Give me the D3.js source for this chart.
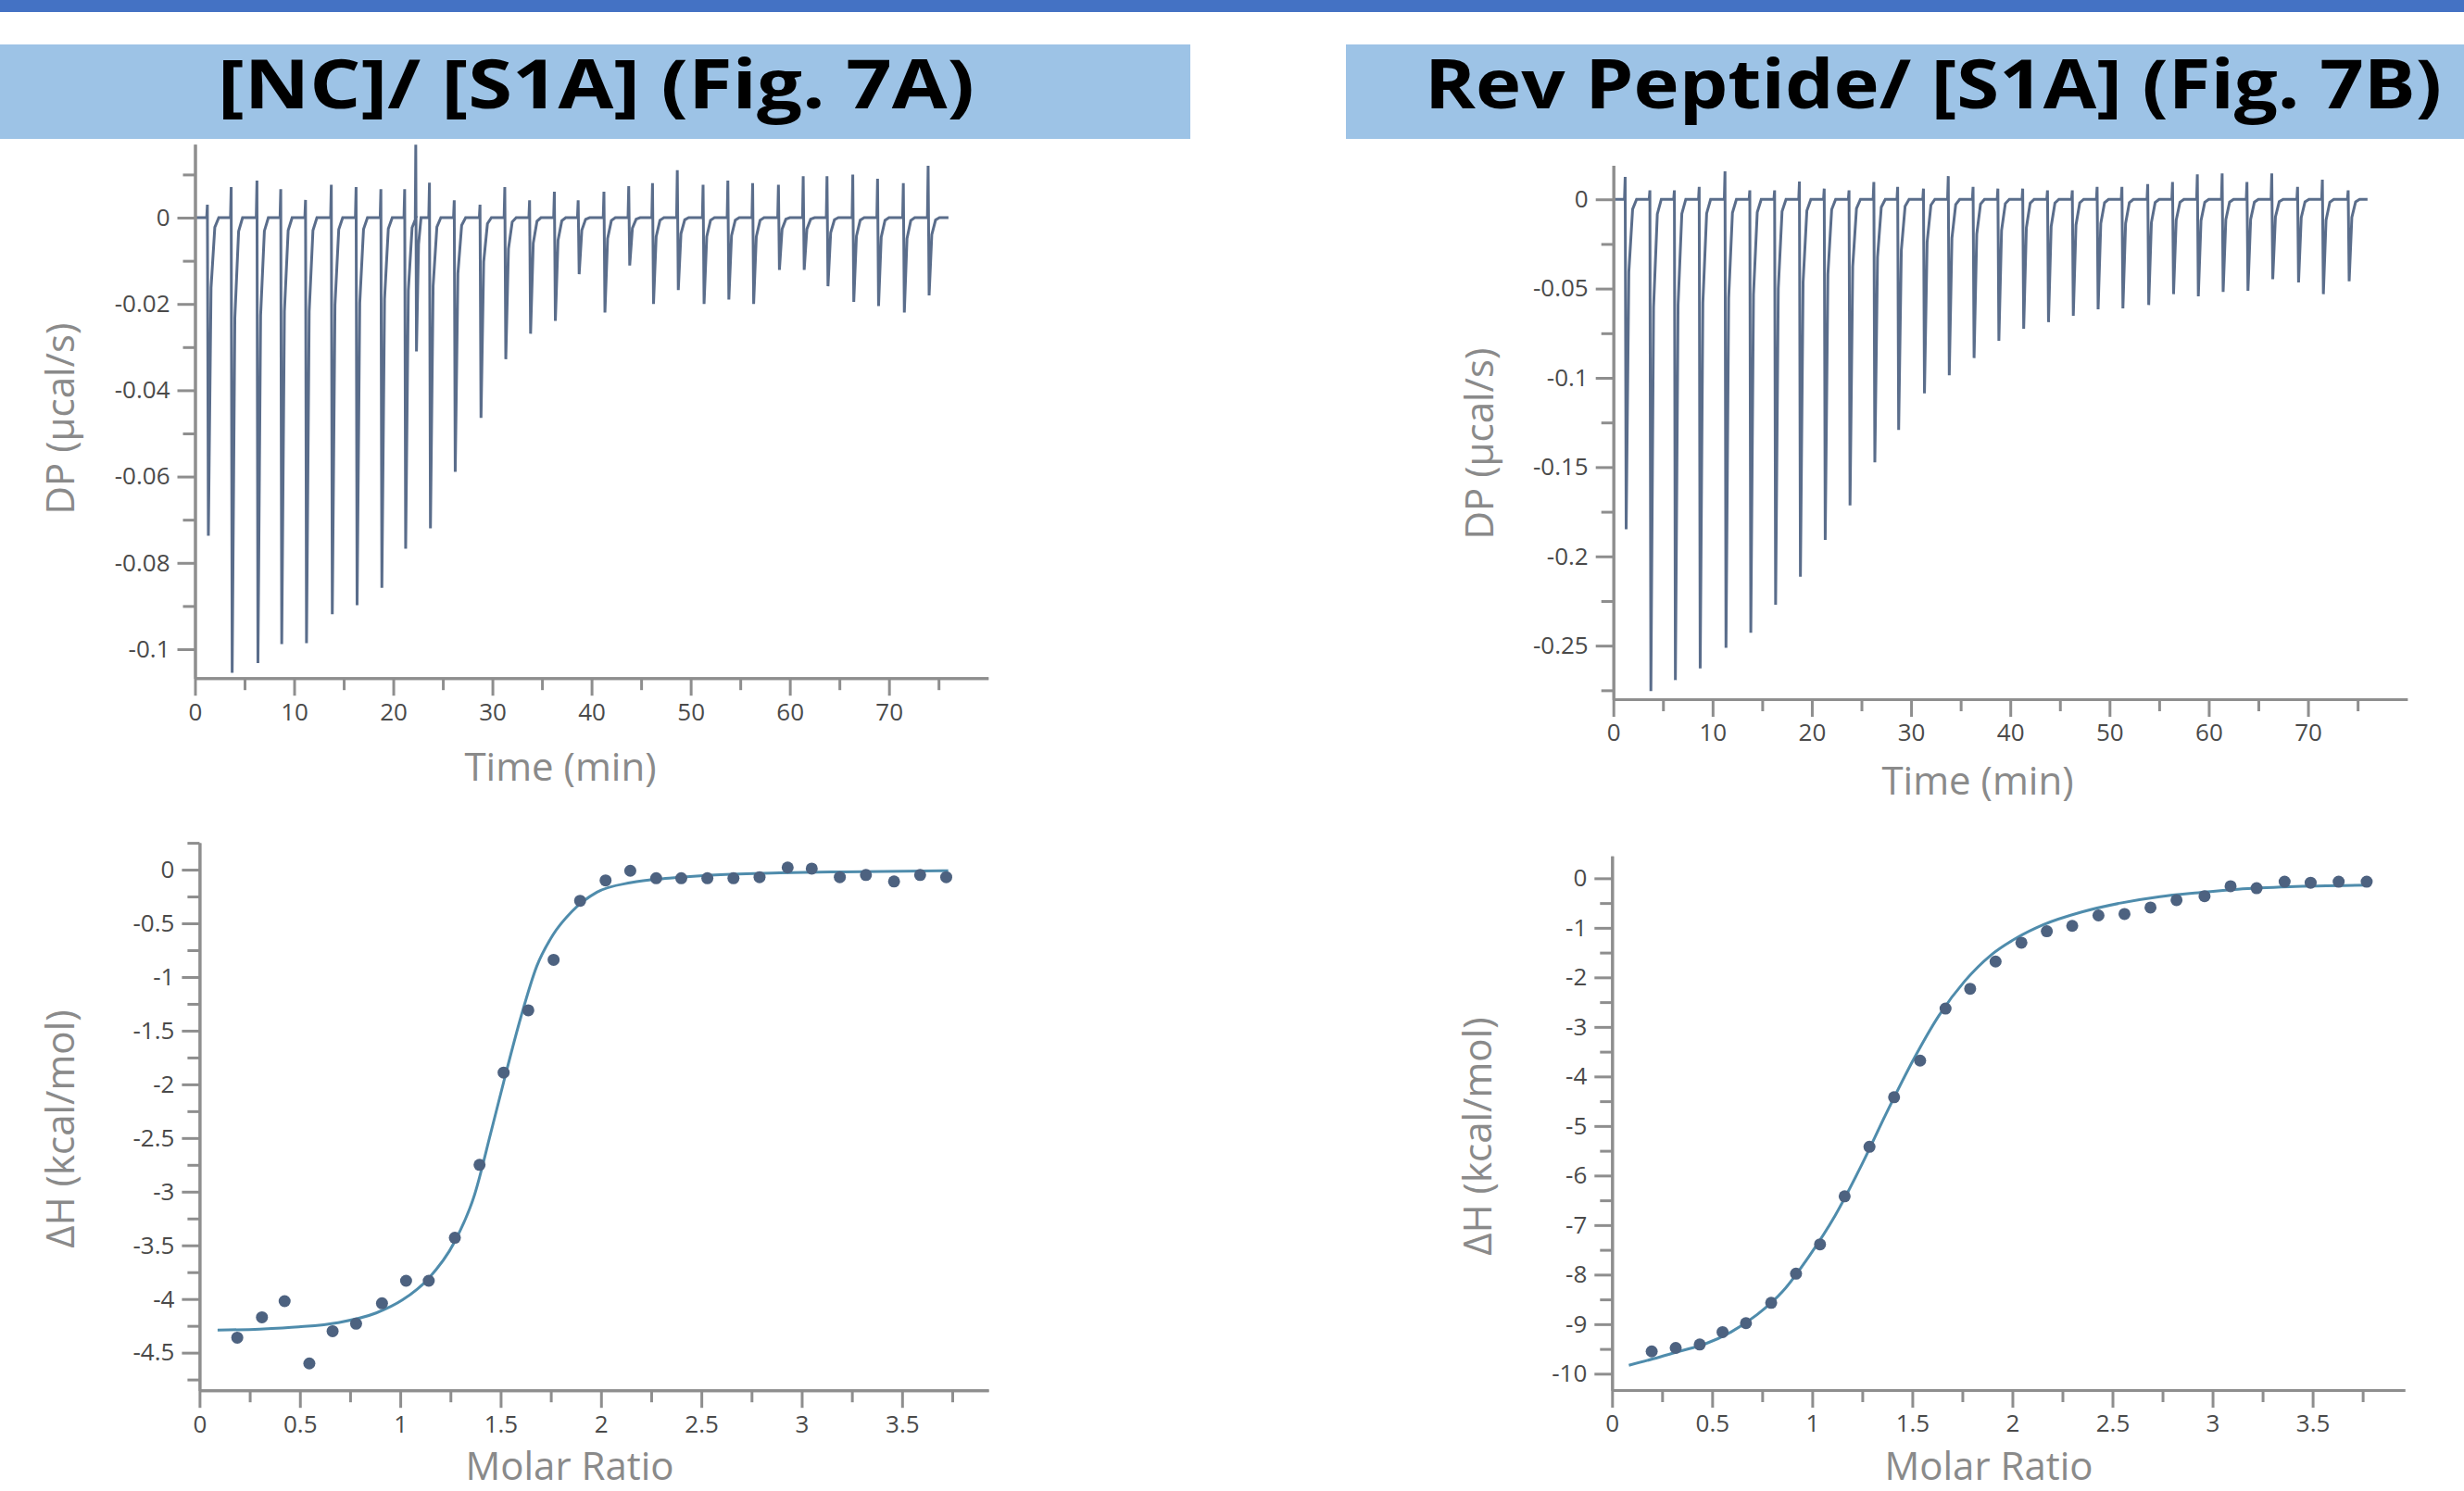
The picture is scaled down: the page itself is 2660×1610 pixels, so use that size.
<!DOCTYPE html>
<html>
<head>
<meta charset="utf-8">
<script src="https://cdn.jsdelivr.net/npm/d3@7"></script>
<style>
  body { margin: 0; background: #fff; overflow: hidden; }
  svg { display: block; }
</style>
</head>
<body>
<div id="viz"></div>
<script>
const W = 2660, H = 1610;

const panelTitles = ["[NC]/ [S1A] (Fig. 7A)", "Rev Peptide/ [S1A] (Fig. 7B)"];

// raw thermogram [NC]/[S1A] : injection time (min), peak (µcal/s), small overshoot
const ncTime = [1.3, 3.7, 6.3, 8.7, 11.2, 13.8, 16.3, 18.8, 21.2, 23.7, 26.2, 28.8, 31.3, 33.8, 36.3,
  38.7, 41.3, 43.8, 46.2, 48.7, 51.3, 53.8, 56.3, 58.9, 61.4, 63.8, 66.4, 68.9, 71.5, 74.0];
const ncPeak = [-0.0737, -0.1055, -0.1032, -0.0988, -0.0986, -0.0919, -0.0898, -0.0858, -0.0767, -0.072,
  -0.0589, -0.0464, -0.0328, -0.0269, -0.0239, -0.0131, -0.022, -0.0111, -0.02, -0.0168,
  -0.02, -0.019, -0.02, -0.0121, -0.0121, -0.0159, -0.0195, -0.0205, -0.022, -0.018];
const ncUp = [0.003, 0.0071, 0.0086, 0.0066, 0.0041, 0.0076, 0.0071, 0.0066, 0.0066, 0.0081,
  0.004, 0.003, 0.0071, 0.004, 0.006, 0.004, 0.006, 0.0073, 0.008, 0.011,
  0.0076, 0.0086, 0.008, 0.0076, 0.0096, 0.0096, 0.01, 0.009, 0.008, 0.012];
// the glitch near 22 min
const ncGlitch = {time: 22.3, up: 0.0169, down: -0.031};

// raw thermogram Rev peptide/[S1A]
const revTime = [1.24, 3.73, 6.2, 8.7, 11.3, 13.8, 16.3, 18.8, 21.3, 23.8, 26.3, 28.7, 31.3, 33.8, 36.3,
  38.8, 41.3, 43.8, 46.3, 48.8, 51.3, 53.9, 56.4, 58.9, 61.4, 63.9, 66.4, 69.0, 71.5, 74.1];
const revPeak = [-0.1848, -0.2754, -0.2693, -0.2628, -0.2512, -0.2428, -0.2271, -0.2114, -0.1908, -0.1715,
  -0.1473, -0.1292, -0.1087, -0.0986, -0.0889, -0.0792, -0.0725, -0.0688, -0.0652, -0.0616,
  -0.0611, -0.0592, -0.0531, -0.0543, -0.0519, -0.0512, -0.0447, -0.0466, -0.0531, -0.0459];
const revUp = [0.0126, 0.005, 0.005, 0.007, 0.0157, 0.005, 0.005, 0.01, 0.006, 0.005,
  0.0097, 0.007, 0.006, 0.013, 0.007, 0.006, 0.006, 0.005, 0.005, 0.007,
  0.007, 0.0085, 0.0097, 0.014, 0.0145, 0.0097, 0.0145, 0.007, 0.011, 0.005];

// integrated heats
const ncRatio = [0.188, 0.311, 0.424, 0.547, 0.663, 0.780, 0.909, 1.029, 1.142, 1.272, 1.395, 1.515, 1.638, 1.764,
  1.896, 2.023, 2.146, 2.275, 2.40, 2.53, 2.66, 2.79, 2.93, 3.05, 3.19, 3.32, 3.46, 3.59, 3.72];
const ncDH = [-4.36, -4.17, -4.02, -4.60, -4.30, -4.23, -4.04, -3.83, -3.83, -3.43, -2.75, -1.89, -1.31, -0.84,
  -0.29, -0.10, -0.01, -0.08, -0.08, -0.08, -0.08, -0.07, 0.02, 0.01, -0.07, -0.05, -0.11, -0.05, -0.07];
const ncFitRatio = [0.09, 0.30, 0.495, 0.69, 0.88, 1.01, 1.14, 1.27, 1.37, 1.45, 1.515, 1.60, 1.68, 1.76,
  1.855, 1.98, 2.15, 2.34, 2.57, 2.89, 3.21, 3.73];
const ncFitDH = [-4.29, -4.28, -4.26, -4.22, -4.13, -4.01, -3.81, -3.47, -3.03, -2.46, -1.98, -1.38, -0.90, -0.61,
  -0.39, -0.21, -0.12, -0.08, -0.05, -0.03, -0.02, -0.01];

const revRatio = [0.198, 0.318, 0.438, 0.552, 0.669, 0.795, 0.919, 1.039, 1.162, 1.286, 1.409, 1.539, 1.666, 1.789,
  1.916, 2.045, 2.172, 2.299, 2.43, 2.56, 2.69, 2.82, 2.96, 3.09, 3.22, 3.36, 3.49, 3.63, 3.77];
const revDH = [-9.55, -9.48, -9.41, -9.16, -8.98, -8.57, -7.98, -7.39, -6.42, -5.42, -4.42, -3.68, -2.63, -2.23,
  -1.68, -1.30, -1.07, -0.96, -0.75, -0.72, -0.59, -0.44, -0.36, -0.16, -0.20, -0.07, -0.09, -0.07, -0.07];
const revFitRatio = [0.084, 0.205, 0.334, 0.464, 0.594, 0.724, 0.854, 0.984, 1.114, 1.244, 1.373, 1.503, 1.633,
  1.763, 1.893, 2.023, 2.153, 2.347, 2.54, 2.737, 2.93, 3.127, 3.386, 3.776];
const revFitDH = [-9.83, -9.70, -9.55, -9.40, -9.16, -8.81, -8.33, -7.63, -6.81, -5.81, -4.72, -3.68, -2.77,
  -2.07, -1.55, -1.20, -0.94, -0.68, -0.50, -0.37, -0.29, -0.22, -0.17, -0.14];

// ticks
const timeTicks = [0, 10, 20, 30, 40, 50, 60, 70];
const timeMinor = [5, 15, 25, 35, 45, 55, 65, 75];
const ratioTicks = [0, 0.5, 1, 1.5, 2, 2.5, 3, 3.5];
const ratioMinor = [0.25, 0.75, 1.25, 1.75, 2.25, 2.75, 3.25, 3.75];
const ncDPTicks = [0, -0.02, -0.04, -0.06, -0.08, -0.1];
const ncDPMinor = [0.01, -0.01, -0.03, -0.05, -0.07, -0.09];
const revDPTicks = [0, -0.05, -0.1, -0.15, -0.2, -0.25];
const revDPMinor = [-0.025, -0.075, -0.125, -0.175, -0.225, -0.275];
const ncDHTicks = [0, -0.5, -1, -1.5, -2, -2.5, -3, -3.5, -4, -4.5];
const ncDHMinor = [0.25, -0.25, -0.75, -1.25, -1.75, -2.25, -2.75, -3.25, -3.75, -4.25, -4.75];
const revDHTicks = [0, -1, -2, -3, -4, -5, -6, -7, -8, -9, -10];
const revDHMinor = [-0.5, -1.5, -2.5, -3.5, -4.5, -5.5, -6.5, -7.5, -8.5, -9.5];

const axisColor = "#8e8e8e", tickText = "#4a4a4a", titleGray = "#8a8a8a";
const traceColor = "#5a6d8b", dotColor = "#4d6280", fitColor = "#4f8cac";
const labelFont = "'Open Sans', 'Noto Sans', sans-serif";

const svg = d3.select("#viz").append("svg")
  .attr("width", W).attr("height", H)
  .attr("viewBox", [0, 0, W, H]);

// top banner strip
svg.append("rect").attr("x", 0).attr("y", 0).attr("width", W).attr("height", 13).attr("fill", "#4472c4");

// panel headers
const headers = [
  {x0: 0, x1: 1285, tx: 235, tl: 817},
  {x0: 1453, x1: 2725, tx: 1538, tl: 1098}
];
headers.forEach((h, i) => {
  svg.append("rect").attr("x", h.x0).attr("y", 48).attr("width", h.x1 - h.x0).attr("height", 102)
    .attr("fill", "#9dc3e6");
  svg.append("text").attr("x", h.tx).attr("y", 117)
    .attr("font-family", labelFont).attr("font-weight", 700).attr("font-size", 74)
    .attr("fill", "#000")
    .attr("textLength", h.tl).attr("lengthAdjust", "spacingAndGlyphs")
    .text(panelTitles[i]);
});

const fmt = d => d === 0 ? "0" : String(d);

function axes(g, x, y, xt, xm, yt, ym) {
  const styleAx = sel => {
    sel.select(".domain").attr("stroke", axisColor).attr("stroke-width", 3);
    sel.selectAll(".tick line").attr("stroke", axisColor).attr("stroke-width", 3);
    sel.selectAll(".tick text").attr("font-family", labelFont).attr("font-size", 26).attr("fill", tickText);
  };
  const yBase = y.range()[0], xBase = x.range()[0];
  g.append("g").attr("transform", `translate(0,${yBase})`)
    .call(d3.axisBottom(x).tickValues(xm).tickSize(13).tickSizeOuter(0).tickFormat(""))
    .call(styleAx);
  g.append("g").attr("transform", `translate(0,${yBase})`)
    .call(d3.axisBottom(x).tickValues(xt).tickSize(19).tickPadding(8).tickSizeOuter(0).tickFormat(fmt))
    .call(styleAx);
  g.append("g").attr("transform", `translate(${xBase},0)`)
    .call(d3.axisLeft(y).tickValues(ym).tickSize(13).tickSizeOuter(0).tickFormat(""))
    .call(styleAx);
  g.append("g").attr("transform", `translate(${xBase},0)`)
    .call(d3.axisLeft(y).tickValues(yt).tickSize(19).tickPadding(8).tickSizeOuter(0).tickFormat(fmt))
    .call(styleAx);
}

function axisTitle(x, y, txt, rotate) {
  const t = svg.append("text")
    .attr("font-family", labelFont).attr("font-size", 42).attr("fill", titleGray)
    .attr("text-anchor", "middle").text(txt);
  if (rotate) t.attr("transform", `translate(${x},${y}) rotate(-90)`).attr("dy", "0.35em");
  else t.attr("x", x).attr("y", y);
}

// thermogram vertices from the read peaks
function tracePoints(times, peaks, ups, glitch, tEnd) {
  const pts = [[0, 0]];
  times.forEach((t, i) => {
    if (glitch && glitch.time < t && glitch.time > (times[i - 1] || 0)) {
      pts.push([glitch.time - 0.08, 0], [glitch.time - 0.03, glitch.up], [glitch.time + 0.04, glitch.down],
        [glitch.time + 0.25, glitch.down * 0.2], [glitch.time + 0.5, 0]);
    }
    pts.push([t - 0.12, 0], [t - 0.05, ups[i]], [t + 0.05, peaks[i]], [t + 0.32, peaks[i] * 0.22],
      [t + 0.7, peaks[i] * 0.03], [t + 1.1, 0]);
  });
  pts.push([tEnd, 0]);
  return pts;
}

function dpPanel(cfg) {
  const x = d3.scaleLinear().domain([0, 80]).range(cfg.xr);
  const y = d3.scaleLinear().domain(cfg.yd).range(cfg.yr);
  const g = svg.append("g");
  const line = d3.line().x(d => x(d[0])).y(d => y(d[1]));
  g.append("path").datum(tracePoints(cfg.times, cfg.peaks, cfg.ups, cfg.glitch, 76))
    .attr("fill", "none").attr("stroke", traceColor).attr("stroke-width", 3)
    .attr("stroke-linejoin", "miter").attr("d", line);
  axes(g, x, y, timeTicks, timeMinor, cfg.yt, cfg.ym);
}

function dhPanel(cfg) {
  const x = d3.scaleLinear().domain(cfg.xd).range(cfg.xr);
  const y = d3.scaleLinear().domain(cfg.yd).range(cfg.yr);
  const g = svg.append("g");
  const fit = cfg.fitX.map((v, i) => [v, cfg.fitY[i]]);
  g.append("path").datum(fit)
    .attr("fill", "none").attr("stroke", fitColor).attr("stroke-width", 3)
    .attr("d", d3.line().curve(d3.curveMonotoneX).x(d => x(d[0])).y(d => y(d[1])));
  g.selectAll("circle.pt").data(cfg.px.map((v, i) => [v, cfg.py[i]])).enter()
    .append("circle").attr("class", "pt")
    .attr("cx", d => x(d[0])).attr("cy", d => y(d[1])).attr("r", 6.5)
    .attr("fill", dotColor);
  axes(g, x, y, ratioTicks, ratioMinor, cfg.yt, cfg.ym);
}

dpPanel({xr: [210.5, 1066.7], yd: [-0.1067, 0.017], yr: [732.2, 155.8],
  times: ncTime, peaks: ncPeak, ups: ncUp, glitch: ncGlitch, yt: ncDPTicks, ym: ncDPMinor});
dpPanel({xr: [1741.7, 2598.7], yd: [-0.28, 0.019], yr: [755, 178.6],
  times: revTime, peaks: revPeak, ups: revUp, glitch: null, yt: revDPTicks, ym: revDPMinor});
dhPanel({xd: [0, 3.93], xr: [215.4, 1067], yd: [-4.85, 0.25], yr: [1501.2, 910.1],
  fitX: ncFitRatio, fitY: ncFitDH, px: ncRatio, py: ncDH, yt: ncDHTicks, ym: ncDHMinor});
dhPanel({xd: [0, 3.96], xr: [1740.3, 2596], yd: [-10.33, 0.45], yr: [1501, 924.3],
  fitX: revFitRatio, fitY: revFitDH, px: revRatio, py: revDH, yt: revDHTicks, ym: revDHMinor});

axisTitle(65, 452, "DP (µcal/s)", true);
axisTitle(605, 843, "Time (min)", false);
axisTitle(65, 1219, "ΔH (kcal/mol)", true);
axisTitle(615, 1598, "Molar Ratio", false);
axisTitle(1597, 479, "DP (µcal/s)", true);
axisTitle(2135, 858, "Time (min)", false);
axisTitle(1595, 1227, "ΔH (kcal/mol)", true);
axisTitle(2147, 1598, "Molar Ratio", false);
</script>
</body>
</html>
